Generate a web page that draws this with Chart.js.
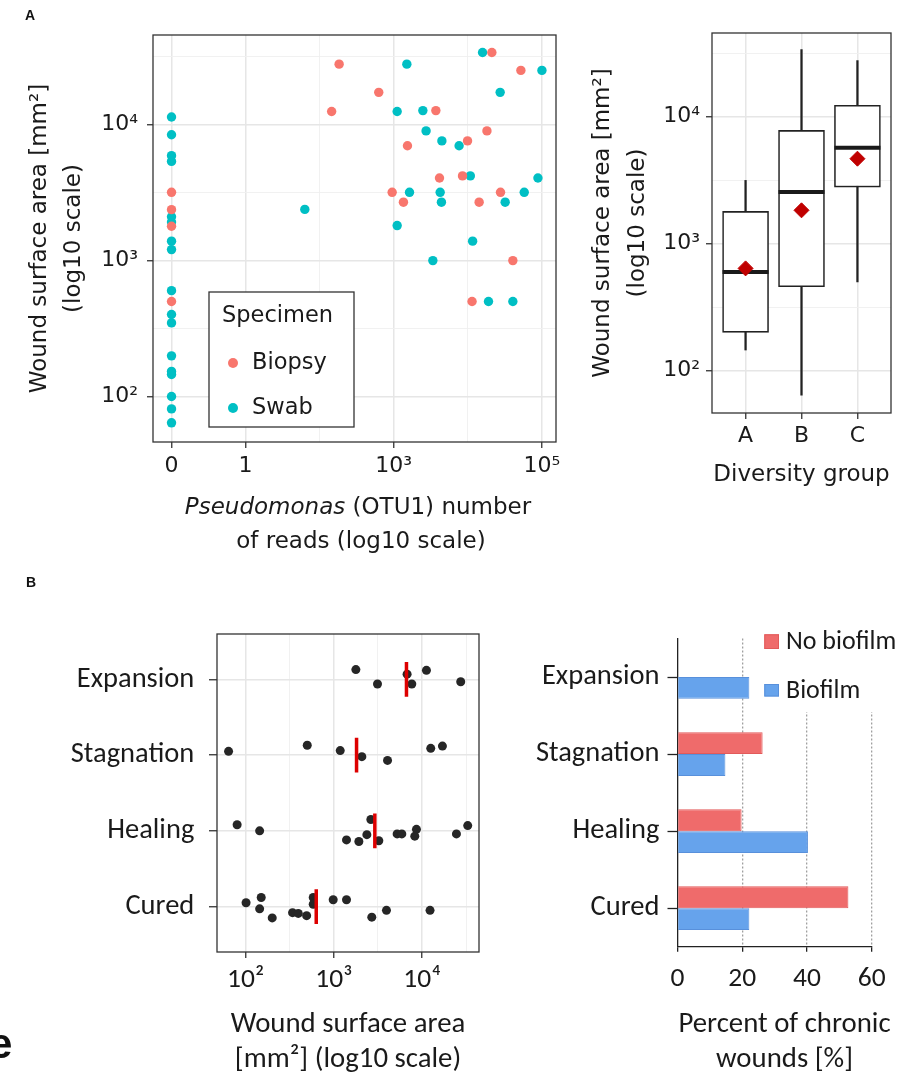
<!DOCTYPE html>
<html>
<head>
<meta charset="utf-8">
<script src="https://cdn.jsdelivr.net/npm/chart.js@4.4.1/dist/chart.umd.min.js"></script>
<style>
  body { margin: 0; background: #fff; }
  #wrap { position: relative; width: 918px; height: 1075px; overflow: hidden; }
  canvas { position: absolute; }
  .tag { position: absolute; font: bold 14px 'Liberation Sans', Arial, sans-serif; line-height: 14px; color: #111; }
</style>
</head>
<body>
<div id="wrap">
  <canvas id="readsChart" width="570" height="560" style="left:0;top:0"></canvas>
  <canvas id="groupChart" width="338" height="560" style="left:580px;top:0"></canvas>
  <canvas id="stageChart" width="490" height="525" style="left:0;top:560px"></canvas>
  <canvas id="biofilmChart" width="428" height="525" style="left:490px;top:560px"></canvas>
  <div class="tag" style="left:25px;top:8px">A</div>
  <div class="tag" style="left:26px;top:575px">B</div>
  <div class="tag" style="left:-11px;top:1023px;font-size:42px;line-height:42px">e</div>
</div>
<script>
"use strict"

// A, vänster: Pseudomonas-läsningar mot sårarea
const biopsyReads = [0, 0, 0, 0, 182, 21100, 52000, 626, 144, 3700, 18100, 9900, 1530, 4140, 8470, 950, 27600, 1350, 14200, 40500, 11400];
const biopsyArea = [3180, 2370, 1790, 500, 27900, 34000, 25100, 17300, 12500, 12700, 9000, 7600, 7000, 4050, 4200, 3180, 3180, 2690, 2690, 1000, 500];
const swabReads = [0, 0, 0, 0, 0, 0, 0, 0, 0, 0, 0, 0, 0, 0, 0, 0, 0,
    1500, 15800, 100000, 27300, 1110, 2470, 2730, 4460, 7620, 10800, 88300, 1630, 4230, 57700, 4400, 31900, 62, 1110, 11600, 3370, 19000, 40500];
const swabArea = [11400, 8440, 5920, 5370, 2100, 1920, 1390, 1205, 601, 401, 348, 199, 153, 145, 100, 81, 64,
    27900, 34000, 25100, 17300, 12500, 12700, 9000, 7600, 7000, 4200, 4050, 3180, 3180, 3180, 2690, 2690, 2380, 1810, 1390, 1000, 500, 500];

const readTicks = [0, 1, 2, 3, 4, 5];
const readLabels = { 0: '0', 1: '1', 3: '10³', 5: '10⁵' };
const areaTicks = [100, 316, 1000, 3162, 10000, 31623];
const areaLabels = { 100: '10²', 1000: '10³', 10000: '10⁴' };

// A, höger: boxplot per diversitetsgrupp
const groups = ['A', 'B', 'C'];
const boxMin = [145, 64, 499];
const boxQ1 = [200, 458, 2790];
const boxMedian = [597, 2550, 5700];
const boxQ3 = [1795, 7800, 12300];
const boxMax = [3150, 33900, 27700];
const boxMean = [638, 1830, 4670];

// B, vänster: sårarea per läkningsfas
const stages = ['Expansion', 'Stagnation', 'Healing', 'Cured'];
const expansionArea = [1775, 3120, 6760, 7640, 11200, 27400];
const expansionJitter = [-0.13, 0.06, -0.07, 0.06, -0.12, 0.03];
const stagnationArea = [64, 499, 1180, 2075, 4055, 12530, 17000];
const stagnationJitter = [-0.05, -0.13, -0.06, 0.02, 0.07, -0.09, -0.12];
const healingArea = [80, 144, 1390, 1920, 2365, 2625, 3230, 5210, 5890, 8630, 8260, 24500, 32900];
const healingJitter = [-0.08, 0, 0.12, 0.14, 0.05, -0.15, 0.13, 0.04, 0.04, -0.02, 0.07, 0.04, -0.07];
const curedArea = [101, 150, 144, 200, 340, 395, 491, 583, 583, 982, 1390, 2690, 3945, 12300];
const curedJitter = [-0.05, -0.12, 0.03, 0.15, 0.08, 0.09, 0.12, -0.12, -0.03, -0.09, -0.09, 0.14, 0.05, 0.05];
const stageMedian = [6650, 1807, 2912, 631];

// B, höger: andel kroniska sår
const noBiofilm = [0, 26.3, 19.8, 52.8];
const biofilm = [22.2, 14.8, 40.3, 22.2];

const wideFont = "'DejaVu Sans', sans-serif";
const calFont = "Carlito, Lato, sans-serif";
const ink = '#1a1a1a';

Chart.defaults.color = ink;
Chart.defaults.animation = false;
Chart.defaults.plugins.legend.display = false;
Chart.defaults.plugins.tooltip.enabled = false;

function isMajorLog(v) {
    return Math.abs(Math.log10(v) - Math.round(Math.log10(v))) < 0.01;
}

// Ram runt ritytan (ggplot-stil)
const frame = {
    id: 'frame',
    afterDraw(chart) {
        const { ctx, chartArea: a } = chart;
        ctx.save();
        ctx.strokeStyle = '#333';
        ctx.lineWidth = 1.3;
        ctx.strokeRect(a.left, a.top, a.right - a.left, a.bottom - a.top);
        ctx.restore();
    }
};

// Log-axel för sårarea, används i A-panelerna
function areaAxis(width, titleTop, titleLineHeight, tickPad) {
    return {
        type: 'logarithmic',
        min: Math.pow(10, 1.665),
        max: Math.pow(10, 4.66),
        afterBuildTicks: (s) => { s.ticks = areaTicks.map((v) => ({ value: v })); },
        afterFit: (s) => { s.width = width; },
        ticks: {
            autoSkip: false,
            padding: tickPad,
            font: { family: wideFont, size: 22 },
            callback: (v) => areaLabels[v] || ''
        },
        grid: {
            color: (c) => isMajorLog(c.tick.value) ? '#e6e6e6' : '#efefef',
            lineWidth: (c) => isMajorLog(c.tick.value) ? 1.5 : 0.9,
            tickLength: 6,
            tickWidth: 1.3,
            tickColor: (c) => isMajorLog(c.tick.value) ? '#333' : 'rgba(0,0,0,0)'
        },
        border: { display: false },
        title: {
            display: true,
            text: ['Wound surface area [mm²]', '(log10 scale)'],
            font: { family: wideFont, size: 23, lineHeight: titleLineHeight },
            padding: { top: titleTop, bottom: 0 }
        }
    };
}

// Legend "Specimen" inne i diagrammet
const specimenLegend = {
    id: 'specimenLegend',
    afterDatasetsDraw(chart) {
        const ctx = chart.ctx;
        ctx.save();
        ctx.fillStyle = '#fff';
        ctx.strokeStyle = '#333';
        ctx.lineWidth = 1.3;
        ctx.fillRect(209, 292, 145, 135);
        ctx.strokeRect(209, 292, 145, 135);
        ctx.font = '22.5px ' + wideFont;
        ctx.textBaseline = 'middle';
        ctx.fillStyle = ink;
        ctx.fillText('Specimen', 222, 316);
        chart.data.datasets.forEach((ds, i) => {
            const y = 363 + i * 45;
            ctx.fillStyle = ds.backgroundColor;
            ctx.beginPath();
            ctx.arc(233, y, 5, 0, 2 * Math.PI);
            ctx.fill();
            ctx.fillStyle = ink;
            ctx.fillText(ds.label, 252, y);
        });
        ctx.restore();
    }
};

// X-axelns titel med kursivt släktnamn
const readsTitle = {
    id: 'readsTitle',
    afterDraw(chart) {
        const ctx = chart.ctx;
        ctx.save();
        ctx.fillStyle = ink;
        ctx.textBaseline = 'middle';
        const italic = 'italic 23px ' + wideFont;
        const normal = '23px ' + wideFont;
        ctx.font = italic;
        const w1 = ctx.measureText('Pseudomonas').width;
        ctx.font = normal;
        const w2 = ctx.measureText(' (OTU1) number').width;
        let x = 358 - (w1 + w2) / 2;
        ctx.textAlign = 'left';
        ctx.font = italic;
        ctx.fillText('Pseudomonas', x, 508);
        ctx.font = normal;
        ctx.fillText(' (OTU1) number', x + w1, 508);
        ctx.textAlign = 'center';
        ctx.fillText('of reads (log10 scale)', 361, 542);
        ctx.restore();
    }
};

function pairs(xs, ys, fx) {
    return xs.map((v, i) => ({ x: fx(v), y: ys[i] }));
}

const toLog = (r) => Math.log10(r + 1);

new Chart(document.getElementById('readsChart'), {
    type: 'scatter',
    data: {
        datasets: [
            { label: 'Biopsy', data: pairs(biopsyReads, biopsyArea, toLog), backgroundColor: '#F8766D', pointRadius: 4.7, pointBorderWidth: 0 },
            { label: 'Swab', data: pairs(swabReads, swabArea, toLog), backgroundColor: '#00BFC4', pointRadius: 4.7, pointBorderWidth: 0 }
        ]
    },
    options: {
        responsive: false,
        layout: { padding: { top: 35, right: 14, bottom: 0, left: 0 } },
        scales: {
            x: {
                type: 'linear',
                min: -0.25,
                max: 5.19,
                afterBuildTicks: (s) => { s.ticks = readTicks.map((v) => ({ value: v })); },
                afterFit: (s) => { s.height = 118; },
                ticks: {
                    autoSkip: false,
                    maxRotation: 0,
                    padding: 5,
                    font: { family: wideFont, size: 22 },
                    callback: (v) => readLabels[v] || ''
                },
                grid: {
                    color: (c) => readLabels[c.tick.value] ? '#e6e6e6' : '#efefef',
                    lineWidth: (c) => readLabels[c.tick.value] ? 1.5 : 0.9,
                    tickLength: 6,
                    tickWidth: 1.3,
                    tickColor: (c) => readLabels[c.tick.value] ? '#333' : 'rgba(0,0,0,0)'
                },
                border: { display: false }
            },
            y: areaAxis(153, 23, 1.48, 9)
        }
    },
    plugins: [frame, specimenLegend, readsTitle]
});

new Chart(document.getElementById('groupChart'), {
    type: 'bar',
    data: {
        datasets: [
            {
                type: 'scatter',
                data: boxMean.map((v, i) => ({ x: i + 1, y: v })),
                pointStyle: 'rectRot',
                pointRadius: 7.5,
                backgroundColor: '#c00000',
                borderColor: '#c00000',
                order: 1
            },
            {
                type: 'scatter',
                data: boxMedian.map((v, i) => ({ x: i + 1, y: v })),
                pointStyle: 'line',
                pointRadius: 23,
                borderColor: ink,
                pointBorderWidth: 4,
                order: 2
            },
            {
                data: groups.map((g, i) => ({ x: i + 1, y: [boxQ1[i], boxQ3[i]] })),
                backgroundColor: '#fff',
                borderColor: '#222',
                borderWidth: 1.6,
                borderSkipped: false,
                barThickness: 46,
                grouped: false,
                order: 3
            },
            {
                data: groups.map((g, i) => ({ x: i + 1, y: [boxMin[i], boxMax[i]] })),
                backgroundColor: '#222',
                barThickness: 1.6,
                grouped: false,
                order: 4
            }
        ]
    },
    options: {
        responsive: false,
        layout: { padding: { top: 33, right: 14, bottom: 0, left: 0 } },
        scales: {
            x: {
                type: 'linear',
                offset: false,
                min: 0.4,
                max: 3.6,
                afterBuildTicks: (s) => { s.ticks = groups.map((g, i) => ({ value: i + 1 })); },
                afterFit: (s) => { s.height = 147; },
                ticks: {
                    autoSkip: false,
                    maxRotation: 0,
                    padding: 4,
                    font: { family: wideFont, size: 22 },
                    callback: (v) => groups[v - 1]
                },
                grid: { offset: false, color: '#e6e6e6', lineWidth: 1.5, tickLength: 6, tickWidth: 1.3, tickColor: '#333' },
                border: { display: false },
                title: {
                    display: true,
                    text: 'Diversity group',
                    font: { family: wideFont, size: 23, lineHeight: 1.2 },
                    padding: { top: 0, bottom: 71 }
                }
            },
            y: areaAxis(132, 5.5, 1.52, 6)
        }
    },
    plugins: [frame]
});

const stageAreas = [expansionArea, stagnationArea, healingArea, curedArea];
const stageJitter = [expansionJitter, stagnationJitter, healingJitter, curedJitter];
const woundPoints = stageAreas.flatMap((areas, s) => areas.map((a, i) => ({ x: a, y: s + 1 + stageJitter[s][i] })));

const medianSets = stageMedian.map((m, s) => ({
    type: 'line',
    data: [{ x: m, y: s + 1 - 0.23 }, { x: m, y: s + 1 + 0.23 }],
    borderColor: '#dd0000',
    borderWidth: 3.5,
    pointRadius: 0,
    order: 0
}));

new Chart(document.getElementById('stageChart'), {
    type: 'scatter',
    data: {
        datasets: [
            { data: woundPoints, backgroundColor: '#262626', pointRadius: 4.5, pointBorderWidth: 0, order: 1 },
            ...medianSets
        ]
    },
    options: {
        responsive: false,
        layout: { padding: { top: 74, right: 11, bottom: 0, left: 0 } },
        scales: {
            x: {
                type: 'logarithmic',
                min: Math.pow(10, 1.675),
                max: Math.pow(10, 4.645),
                afterBuildTicks: (s) => { s.ticks = areaTicks.map((v) => ({ value: v })); },
                afterFit: (s) => { s.height = 133; },
                ticks: {
                    autoSkip: false,
                    maxRotation: 0,
                    padding: 6,
                    font: { family: calFont, size: 27.5 },
                    callback: (v) => areaLabels[v] || ''
                },
                grid: {
                    color: (c) => isMajorLog(c.tick.value) ? '#e6e6e6' : '#efefef',
                    lineWidth: (c) => isMajorLog(c.tick.value) ? 1.5 : 0.9,
                    tickLength: 6,
                    tickWidth: 1.3,
                    tickColor: (c) => isMajorLog(c.tick.value) ? '#333' : 'rgba(0,0,0,0)'
                },
                border: { display: false },
                title: {
                    display: true,
                    text: ['Wound surface area', '[mm²] (log10 scale)'],
                    font: { family: calFont, size: 28.8, lineHeight: 1.215 },
                    padding: { top: 0, bottom: 7.5 }
                }
            },
            y: {
                type: 'linear',
                reverse: true,
                min: 0.4,
                max: 4.6,
                afterBuildTicks: (s) => { s.ticks = stages.map((st, i) => ({ value: i + 1 })); },
                afterFit: (s) => { s.width = 217; },
                ticks: {
                    autoSkip: false,
                    padding: 14.7,
                    font: { family: calFont, size: 28.5 },
                    callback: (v) => stages[v - 1]
                },
                grid: { color: '#e6e6e6', lineWidth: 1.5, tickLength: 8, tickWidth: 1.3, tickColor: '#333' },
                border: { display: false }
            }
        }
    },
    plugins: [frame]
});

// Legend och x-titel för stapeldiagrammet
const biofilmLegend = {
    id: 'biofilmLegend',
    afterDraw(chart) {
        const ctx = chart.ctx;
        ctx.save();
        ctx.fillStyle = '#fff';
        ctx.fillRect(268, 60, 160, 92);
        ctx.font = '26px ' + calFont;
        ctx.textBaseline = 'middle';
        chart.data.datasets.forEach((ds, i) => {
            const y = i === 0 ? 74.3 : 124;
            const h = i === 0 ? 14.7 : 12.5;
            ctx.fillStyle = ds.backgroundColor;
            ctx.strokeStyle = ds.borderColor;
            ctx.lineWidth = 1;
            ctx.fillRect(274.3, y, 14.7, h);
            ctx.strokeRect(274.8, y + 0.5, 13.7, h - 1);
            ctx.fillStyle = ink;
            ctx.fillText(ds.label, 296, y + h / 2 + 1);
        });
        ctx.font = '28.8px ' + calFont;
        ctx.textAlign = 'center';
        ctx.fillText('Percent of chronic', 294.5, 465);
        ctx.fillText('wounds [%]', 294.5, 500);
        ctx.restore();
    }
};

new Chart(document.getElementById('biofilmChart'), {
    type: 'bar',
    data: {
        labels: stages,
        datasets: [
            { label: 'No biofilm', data: noBiofilm, backgroundColor: '#EF6B6B', borderColor: '#E25A5A', borderWidth: 1, borderSkipped: 'start' },
            { label: 'Biofilm', data: biofilm, backgroundColor: '#66A3EC', borderColor: '#5890DB', borderWidth: 1, borderSkipped: 'start' }
        ]
    },
    options: {
        responsive: false,
        indexAxis: 'y',
        categoryPercentage: 0.566,
        barPercentage: 1,
        layout: { padding: { top: 78.5, right: 46.3, bottom: 0, left: 0 } },
        scales: {
            x: {
                min: 0,
                max: 60,
                afterFit: (s) => { s.height = 138.3; },
                ticks: {
                    stepSize: 20,
                    padding: 11.3,
                    maxRotation: 0,
                    font: { family: calFont, size: 27.5 }
                },
                grid: {
                    color: (c) => c.tick.value === 0 ? 'rgba(0,0,0,0)' : '#a0a0a0',
                    lineWidth: 1.3,
                    tickLength: 5,
                    tickWidth: 1.3,
                    tickColor: '#222'
                },
                border: { display: true, color: '#222', width: 1.3, dash: [2, 2] }
            },
            y: {
                afterFit: (s) => { s.width = 187.5; },
                ticks: {
                    padding: 8,
                    font: { family: calFont, size: 28.5 }
                },
                grid: { offset: false, drawOnChartArea: false, tickLength: 10, tickWidth: 1.3, tickColor: '#222' },
                border: { display: true, color: '#222', width: 1.3 }
            }
        }
    },
    plugins: [biofilmLegend]
});
</script>
</body>
</html>
